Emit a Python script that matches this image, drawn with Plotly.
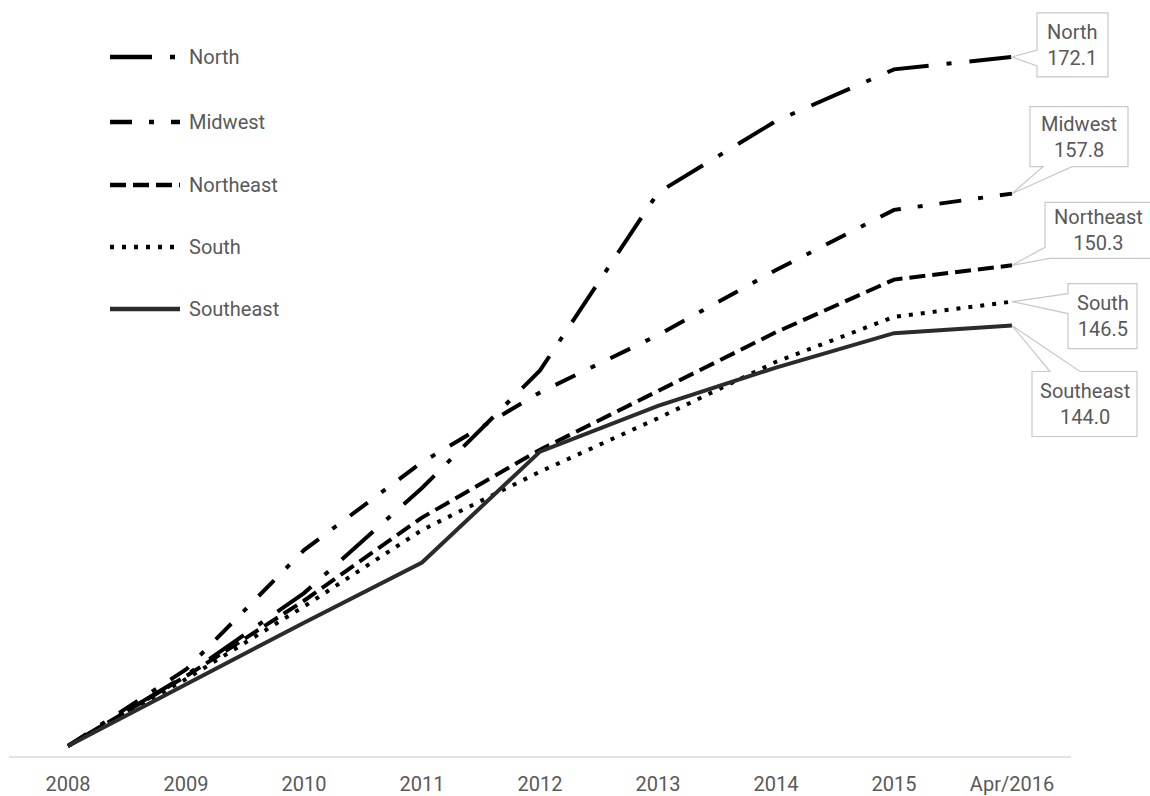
import plotly.graph_objects as go

# ---------------- data ----------------
periods = ["2008", "2009", "2010", "2011", "2012", "2013", "2014", "2015", "Apr/2016"]
north = [100.0, 107.4, 116.0, 127.0, 139.3, 157.9, 165.4, 170.8, 172.1]
midwest = [100.0, 108.0, 120.5, 129.7, 137.0, 143.0, 149.8, 156.1, 157.8]
northeast = [100.0, 107.3, 115.2, 123.9, 131.0, 137.2, 143.3, 148.8, 150.3]
south = [100.0, 107.0, 114.6, 122.6, 128.7, 134.3, 140.2, 144.9, 146.5]
southeast = [100.0, 106.5, 112.9, 119.2, 130.8, 135.6, 139.6, 143.2, 144.0]

series_names = ["North", "Midwest", "Northeast", "South", "Southeast"]
series_values = [north, midwest, northeast, south, southeast]

# ---------------- styles ----------------
dashes = {
    "North": "42px,18px,5px,18px",
    "Midwest": "22px,17px,5px,17px",
    "Northeast": "16px,7px",
    "South": "4px,8px",
    "Southeast": "solid",
}
colors = {"North": "#000000", "Midwest": "#000000", "Northeast": "#000000",
          "South": "#000000", "Southeast": "#2b2b2b"}
TXT = "#595959"
FONT = "Roboto"
GRAY = "#c8c8c8"

W, H = 1150, 796
ML, MR, MT, MB = 9, 0, 0, 39
plot_w = W - ML - MR
plot_h = H - MT - MB
cat_px = 118.0
x_range = [-0.5, -0.5 + plot_w / cat_px]
y_range = [98.85, 178.06]

xs = list(range(len(periods)))

fig = go.Figure()
for name, vals in zip(series_names, series_values):
    fig.add_trace(go.Scatter(
        x=xs, y=vals, mode="lines", name=name, showlegend=False,
        line=dict(color=colors[name], width=4, dash=dashes[name]),
        hoverinfo="skip",
    ))

shapes = []
annotations = []

# axis baseline
shapes.append(dict(type="line", xref="x", yref="paper", x0=-0.5, x1=len(periods) - 0.5,
                   y0=0, y1=0, line=dict(color="#d9d9d9", width=1.5), layer="below"))

# ---------------- manual legend ----------------
def px_to_paper(px, py):
    return (px - ML) / plot_w, 1 - (py - MT) / plot_h

legend_rows = [57, 122, 185, 247, 309]
for name, ry in zip(series_names, legend_rows):
    x0, y0 = px_to_paper(110, ry)
    x1, _ = px_to_paper(180, ry)
    shapes.append(dict(type="line", xref="paper", yref="paper", x0=x0, x1=x1, y0=y0, y1=y0,
                       line=dict(color=colors[name], width=4.5, dash=dashes[name])))
    tx, ty = px_to_paper(187, ry)
    annotations.append(dict(xref="paper", yref="paper", x=tx, y=ty, text=name,
                            showarrow=False, xanchor="left", yanchor="middle",
                            font=dict(family=FONT, size=20, color=TXT)))

# ---------------- callout labels (pixel offsets from the end point, screen y-down) ----------------
callouts = {
    "North": dict(poly=[(25, -44), (96, -44), (96, 20), (25, 20), (25, 9), (0, 0), (25, -7)],
                  center=(60.5, -12)),
    "Midwest": dict(poly=[(18, -87), (116, -87), (116, -27), (60, -27), (0, 0), (31, -27), (18, -27)],
                    center=(67, -57)),
    "Northeast": dict(poly=[(33, -63), (142, -63), (142, -7), (38, -7), (0, 0), (33, -18)],
                      center=(86, -35)),
    "South": dict(poly=[(56, -18), (125, -18), (125, 47), (56, 47), (56, 12), (0, 0), (56, -8)],
                  center=(90.5, 14.5)),
    "Southeast": dict(poly=[(20, 46), (38, 46), (0, 0), (68, 46), (125, 46), (125, 111), (20, 111)],
                      center=(72.5, 78.5)),
}
last = xs[-1]
for name, vals in zip(series_names, series_values):
    c = callouts[name]
    path = "M " + " L ".join(f"{dx},{-dy}" for dx, dy in c["poly"]) + " Z"
    shapes.append(dict(type="path", xref="x", yref="y", xsizemode="pixel", ysizemode="pixel",
                       xanchor=last, yanchor=vals[-1], path=path,
                       fillcolor="white", line=dict(color=GRAY, width=1.2)))
    annotations.append(dict(x=last, y=vals[-1], xref="x", yref="y",
                            text=f"{name}<br>{vals[-1]:.1f}", showarrow=False,
                            xanchor="center", yanchor="middle", align="center",
                            xshift=c["center"][0], yshift=-c["center"][1],
                            font=dict(family=FONT, size=20, color=TXT)))

fig.update_layout(
    width=W, height=H,
    margin=dict(l=ML, r=MR, t=MT, b=MB),
    paper_bgcolor="white", plot_bgcolor="white",
    shapes=shapes, annotations=annotations,
    xaxis=dict(range=x_range, tickvals=xs, ticktext=periods, showgrid=False, zeroline=False,
               showline=False, ticks="", ticklabelstandoff=13,
               tickfont=dict(family=FONT, size=20, color=TXT)),
    yaxis=dict(range=y_range, visible=False, showgrid=False, zeroline=False),
)

fig.write_html("out.html")
